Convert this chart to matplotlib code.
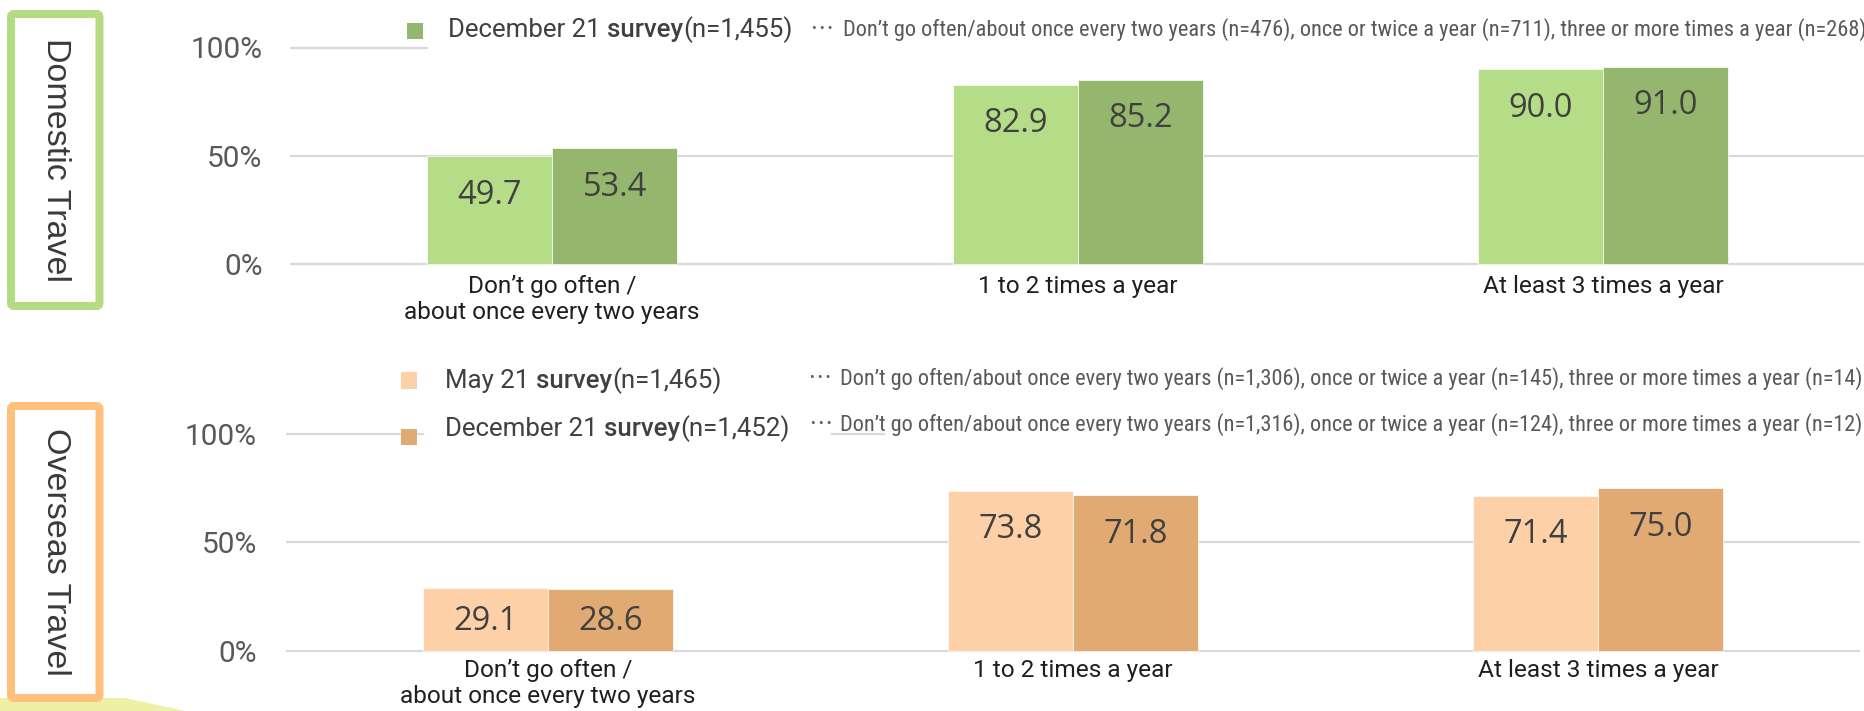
import matplotlib
matplotlib.use("Agg")
import matplotlib.pyplot as plt
from matplotlib import font_manager
from matplotlib.patches import Rectangle, FancyBboxPatch, Polygon
from matplotlib.transforms import IdentityTransform

# ---------------------------------------------------------------- data
categories = ["Don’t go often /\nabout once every two years",
              "1 to 2 times a year",
              "At least 3 times a year"]
domestic_may = [49.7, 82.9, 90.0]
domestic_dec = [53.4, 85.2, 91.0]
overseas_may = [29.1, 73.8, 71.4]
overseas_dec = [28.6, 71.8, 75.0]
y_ticks = [0, 50, 100]
y_tick_labels = ["0%", "50%", "100%"]

panel_titles = ["Domestic Travel", "Overseas Travel"]
dom_legend = [("December 21", "survey", "(n=1,455)")]
dom_notes = ["Don’t go often/about once every two years (n=476), "
             "once or twice a year (n=711), three or more times a year (n=268)"]
ovs_legend = [("May 21", "survey", "(n=1,465)"),
              ("December 21", "survey", "(n=1,452)")]
ovs_notes = ["Don’t go often/about once every two years (n=1,306), "
             "once or twice a year (n=145), three or more times a year (n=14)",
             "Don’t go often/about once every two years (n=1,316), "
             "once or twice a year (n=124), three or more times a year (n=12)"]
NOTE_LEAD = "• • •"

# ---------------------------------------------------------------- style
W, H, DPI = 1864, 711, 100
GREEN_L, GREEN_D = "#b5dd87", "#95b66d"
PEACH, TAN = "#fdd0a7", "#e2aa73"
BOX_GREEN, BOX_ORANGE = "#b4dc82", "#ffc07e"
GRID = "#d9d9d9"
VALUE_C = "#404040"
TICK_C = "#595959"

avail = {f.name for f in font_manager.fontManager.ttflist}


def pick(*names):
    for n in names:
        if n in avail:
            return n
    return "DejaVu Sans"


F_LABEL = pick("Roboto", "Lato", "DejaVu Sans")
F_VALUE = pick("Open Sans", "Noto Sans", "DejaVu Sans")
F_TITLE = pick("Liberation Sans", "DejaVu Sans")
F_NOTE = pick("Liberation Sans Narrow", "Roboto Condensed", "Open Sans Condensed",
              "Liberation Sans")

fig = plt.figure(figsize=(W / DPI, H / DPI), dpi=DPI)
fig.patch.set_facecolor("white")
renderer = fig.canvas.get_renderer()

BAR_W = 0.238
YLO, YHI = -4, 106


def axes_rect(left_px, right_px, zero_px, hundred_px):
    ppu = (zero_px - hundred_px) / 100.0
    bottom_img = zero_px - YLO * ppu
    top_img = zero_px - YHI * ppu
    return [left_px / W, 1 - bottom_img / H,
            (right_px - left_px) / W, (bottom_img - top_img) / H], ppu


def draw_panel(rect, ppu, may, dec, c_may, c_dec, top_segments, tick_pad, xpad):
    ax = fig.add_axes(rect)
    ax.set_xlim(-0.5, 2.5)
    ax.set_ylim(YLO, YHI)
    for s in ax.spines.values():
        s.set_visible(False)
    # gridlines
    for yv in (0, 50):
        ax.axhline(yv, color=GRID, lw=1.6, zorder=0)
    for a, b in top_segments:
        ax.axhline(100, xmin=a, xmax=b, color=GRID, lw=1.6, zorder=0)
    xs = range(len(categories))
    for series, col, sgn in ((may, c_may, -1), (dec, c_dec, 1)):
        xpos = [x + sgn * BAR_W / 2 for x in xs]
        bars = ax.bar(xpos, series, BAR_W, color=col, edgecolor="#ffffff",
                      linewidth=0.5, zorder=2)
        for rect_, v in zip(bars, series):
            h_px = v * ppu
            off = min(37.0, h_px / 2.0)
            ax.annotate(f"{v:.1f}", xy=(rect_.get_x() + rect_.get_width() / 2, v),
                        xytext=(0, -off - 2), textcoords="offset pixels",
                        ha="center", va="center", fontsize=23.5,
                        family=F_VALUE, color=VALUE_C, zorder=3)
    ax.set_yticks(y_ticks)
    ax.set_yticklabels(y_tick_labels, family=F_LABEL, fontsize=21.5, color=TICK_C)
    ax.set_xticks(list(xs))
    ax.set_xticklabels(categories, family=F_LABEL, fontsize=17.6, color="#1f1f1f",
                       linespacing=1.18)
    ax.tick_params(axis="y", length=0, pad=tick_pad)
    ax.tick_params(axis="x", length=0, pad=xpad)
    return ax


# top panel: domestic travel
rect_t, ppu_t = axes_rect(289.5, 289.5 + 3 * 525.5, 264.0, 47.5)
span_t = 3 * 525.5
draw_panel(rect_t, ppu_t, domestic_may, domestic_dec, GREEN_L, GREEN_D,
           [(0, (427 - 289.5) / span_t)], 19.5, 1.5)

# bottom panel: overseas travel
rect_b, ppu_b = axes_rect(285.5, 285.5 + 3 * 525.0, 650.7, 434.0)
span_b = 3 * 525.0
draw_panel(rect_b, ppu_b, overseas_may, overseas_dec, PEACH, TAN,
           [(0, (423 - 285.5) / span_b), ((832 - 285.5) / span_b, (884 - 285.5) / span_b)],
           20.5, -0.5)


# ---------------------------------------------------------------- legends
def text_width(s, **kw):
    t = fig.text(0, 0, s, **kw)
    w = t.get_window_extent(renderer).width
    t.remove()
    return w


def fit_size(s, target, **kw):
    w10 = text_width(s, fontsize=10, **kw)
    return 10.0 * target / w10


def legend_row(x_px, y_px, parts, size, color="#404040"):
    a, b, c = parts
    kw = dict(family=F_LABEL, fontsize=size, color=color, va="center", ha="left")
    fig.text(x_px / W, 1 - y_px / H, a, **kw)
    space = text_width("a a", family=F_LABEL, fontsize=size) - \
        text_width("aa", family=F_LABEL, fontsize=size)
    x2 = x_px + text_width(a, family=F_LABEL, fontsize=size) + space
    t2 = fig.text(x2 / W, 1 - y_px / H, b, fontweight="medium", **kw)
    x3 = x2 + t2.get_window_extent(renderer).width
    fig.text(x3 / W, 1 - y_px / H, c, **kw)


def note_row(x_lead, x_text, x_end, y_px, txt):
    fig.text(x_lead / W, 1 - (y_px - 1) / H, NOTE_LEAD, family=F_NOTE, fontsize=10,
             color=TICK_C, va="center", ha="left")
    size = fit_size(txt, x_end - x_text, family=F_NOTE)
    fig.text(x_text / W, 1 - y_px / H, txt, family=F_NOTE, fontsize=size,
             color=TICK_C, va="center", ha="left")


def marker(x0, y0, x1, y1, col):
    fig.patches.append(Rectangle((x0, H - y1), x1 - x0, y1 - y0, transform=IdentityTransform(),
                                 facecolor=col, edgecolor="none", figure=fig))


LEG_SIZE = fit_size("December 21 survey(n=1,455)", 345, family=F_LABEL)

marker(407, 23, 423, 39, GREEN_D)
legend_row(448, 30, dom_legend[0], LEG_SIZE)
note_row(812, 843, 1856, 30, dom_notes[0])

marker(401, 372, 417, 389, PEACH)
marker(401, 429, 417, 445, TAN)
legend_row(445, 381, ovs_legend[0], LEG_SIZE)
legend_row(445, 429, ovs_legend[1], LEG_SIZE)
note_row(810, 840, 1855, 379, ovs_notes[0])
note_row(811, 840, 1855, 425, ovs_notes[1])

# ---------------------------------------------------------------- side panels
fig.patches.append(Polygon([(0, H - 698), (125, H - 698), (185, 0), (0, 0)], closed=True,
                           transform=IdentityTransform(), facecolor="#eef0a6",
                           edgecolor="none", figure=fig))


def side_box(y_top, y_bot, col, title):
    lw_px = 8
    x0, x1 = 7 + lw_px / 2, 103.5 - lw_px / 2
    y0, y1 = y_top + lw_px / 2, y_bot - lw_px / 2
    box = FancyBboxPatch((x0, H - y1), x1 - x0, y1 - y0,
                         boxstyle="round,pad=0,rounding_size=3",
                         transform=IdentityTransform(), facecolor="white",
                         edgecolor=col, linewidth=lw_px * 0.72, figure=fig)
    fig.patches.append(box)
    fig.text(55 / W, 1 - ((y_top + y_bot) / 2) / H, title, rotation=270,
             ha="center", va="center", family=F_TITLE, fontsize=24.5,
             color="#3a3a3a")


side_box(10, 310, BOX_GREEN, panel_titles[0])
side_box(402, 702, BOX_ORANGE, panel_titles[1])

fig.savefig("out.png", dpi=DPI, facecolor="white")
